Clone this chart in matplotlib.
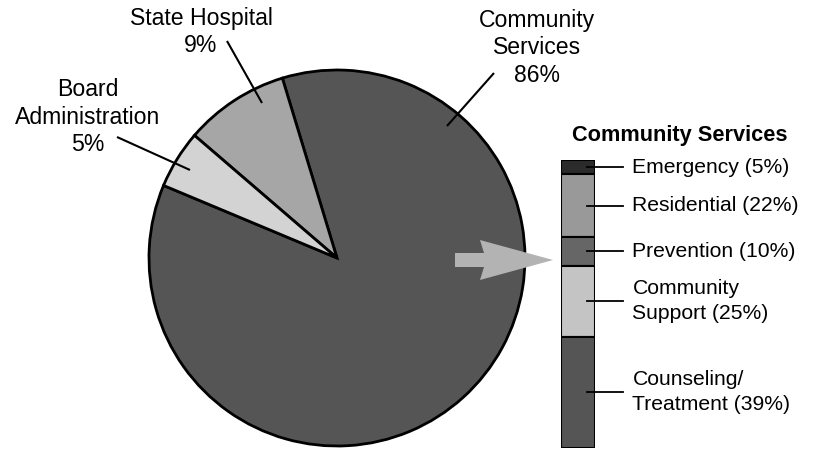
import matplotlib
matplotlib.use("Agg")
import matplotlib.pyplot as plt
import numpy as np
from matplotlib.patches import Polygon

plt.rcParams['font.family'] = ['Liberation Sans', 'DejaVu Sans']

# ---- data ----
pie_labels = ["Community\nServices", "State Hospital", "Board\nAdministration"]
pie_values = [86, 9, 5]
pie_colors = ["#555555", "#a6a6a6", "#d3d3d3"]

bar_labels = ["Emergency (5%)", "Residential (22%)", "Prevention (10%)",
              "Community\nSupport (25%)", "Counseling/\nTreatment (39%)"]
bar_values = [5, 22, 10, 25, 39]
bar_colors = ["#2b2b2b", "#999999", "#666666", "#c4c4c4", "#555555"]
bar_title = "Community Services"

W, H = 814, 450
fig = plt.figure(figsize=(W / 100, H / 100), dpi=100)

# ---- pie ----
cx, cy, R = 337, 258, 188
axp = fig.add_axes([(cx - R) / W, (H - cy - R) / H, 2 * R / W, 2 * R / H])
wedges, _ = axp.pie(pie_values, colors=pie_colors, startangle=157.3,
                    counterclock=True, radius=1.0,
                    wedgeprops=dict(edgecolor='black', linewidth=2.0))
axp.set_xlim(-1, 1)
axp.set_ylim(-1, 1)
axp.set_aspect('equal')
axp.axis('off')
for w in wedges:
    w.set_clip_on(False)

# label positions (pixel) and leader endpoints (pixel)
lab_pos = [(537, 48), (201, 32), (88, 117)]
lead = [((494, 73), (447, 126)), ((227, 41), (262, 103)), ((117, 137), (190, 170))]

# full-figure overlay in pixel coords
axo = fig.add_axes([0, 0, 1, 1])
axo.set_xlim(0, W)
axo.set_ylim(H, 0)
axo.axis('off')

for lbl, v, (x, y), (p0, p1) in zip(pie_labels, pie_values, lab_pos, lead):
    axo.text(x, y, f"{lbl}\n{v}%", ha='center', va='center', fontsize=16.6,
             linespacing=1.25, color='black')
    axo.plot([p0[0], p1[0]], [p0[1], p1[1]], color='black', lw=1.5,
             solid_capstyle='butt')

# arrow
arrow = Polygon([(455, 253), (484, 253), (480, 240), (553, 260), (480, 280),
                 (484, 267), (455, 267)], closed=True, facecolor='#b3b3b3',
                edgecolor='none', zorder=5)
axo.add_patch(arrow)

# ---- stacked bar ----
bx0, bx1, by0, by1 = 561, 595, 160, 448
axb = fig.add_axes([bx0 / W, (H - by1) / H, (bx1 - bx0) / W, (by1 - by0) / H])
total = sum(bar_values)
axb.set_ylim(total, 0)
axb.set_xlim(0, 1)
axb.axis('off')
bottoms = np.concatenate([[0], np.cumsum(bar_values)[:-1]])
axb.bar([0.5] * len(bar_values), bar_values, bottom=bottoms, width=1.0,
        color=bar_colors, edgecolor='black', linewidth=1.5)

tr = matplotlib.transforms.blended_transform_factory(axb.transAxes, axb.transData)
for lbl, v, b in zip(bar_labels, bar_values, bottoms):
    ymid = b + v / 2
    axb.plot([0.76, 1.82], [ymid, ymid], color='black', lw=1.3, transform=tr,
             clip_on=False)
    axb.text(2.1, ymid, lbl, transform=tr, ha='left', va='center',
             fontsize=15.2, linespacing=1.4, clip_on=False)

axo.text(680, 135, bar_title, ha='center', va='center', fontsize=15.7,
         fontweight='bold')

fig.savefig("out.png", dpi=100, facecolor='white')
